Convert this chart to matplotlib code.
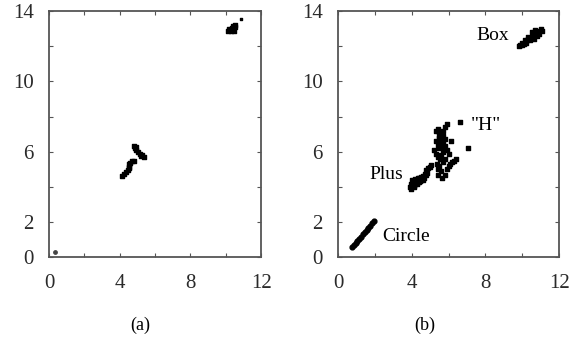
import matplotlib
matplotlib.use('Agg')
import matplotlib.pyplot as plt

plt.rcParams['font.family'] = ['Liberation Serif', 'DejaVu Serif']

### panel (a): feature space before normalisation
a_dot_x = [0.35]
a_dot_y = [0.3]
a_low_x = [4.15, 4.25, 4.35, 4.45, 4.5, 4.52, 4.55, 4.6, 4.7, 4.8]
a_low_y = [4.6, 4.72, 4.85, 4.95, 5.05, 5.15, 5.3, 5.38, 5.45, 5.5]
a_up_x = [4.8, 4.85, 4.95, 5.05, 5.15, 5.25, 5.35, 4.9, 5.2]
a_up_y = [6.3, 6.2, 6.1, 6.0, 5.9, 5.8, 5.68, 6.25, 5.75]
a_box_x = [10.15, 10.3, 10.45, 10.2, 10.35, 10.5, 10.4, 10.55, 10.25, 10.45, 10.85]
a_box_y = [12.85, 12.85, 12.9, 12.98, 13.03, 13.08, 13.18, 13.2, 12.93, 13.12, 13.55]

### panel (b): normalised features, one cluster per shape
circle_x = [0.75, 0.85, 0.95, 1.05, 1.15, 1.25, 1.35, 1.45, 1.55, 1.65, 1.75, 1.85, 1.95]
circle_y = [0.55, 0.68, 0.8, 0.92, 1.05, 1.17, 1.3, 1.42, 1.55, 1.68, 1.8, 1.93, 2.08]
plus_x = [3.9, 3.95, 4.0, 4.05, 4.1, 4.15, 4.2, 4.25, 4.3, 4.35, 4.4, 4.45, 4.5, 4.55,
          4.6, 4.65, 4.7, 4.75, 4.8, 4.85, 4.9, 5.0, 5.05, 4.0, 4.1, 4.2, 4.3, 4.4,
          4.5, 4.6, 3.95, 4.15, 4.35]
plus_y = [4.0, 4.15, 4.05, 4.3, 4.2, 4.1, 4.35, 4.25, 4.4, 4.3, 4.5, 4.35, 4.55, 4.45,
          4.6, 4.5, 4.75, 4.65, 4.95, 4.8, 5.05, 5.15, 5.25, 4.4, 4.0, 4.45, 4.15, 4.25,
          4.4, 4.4, 3.9, 4.05, 4.5]
h_x = [5.3, 5.4, 5.5, 5.6, 5.7, 5.8, 5.5, 5.6, 5.7, 5.4, 5.5, 5.6, 5.7, 5.8, 5.9,
       5.3, 5.4, 5.6, 5.8, 6.0, 6.1, 5.5, 5.7, 5.9, 6.2, 5.4, 5.6, 5.8, 6.0, 6.3,
       5.3, 5.5, 5.7, 5.9, 5.35, 5.55, 5.75, 6.15, 6.4, 6.6, 5.65, 5.45, 7.05, 5.8, 5.2]
h_y = [7.2, 7.3, 7.1, 7.0, 6.9, 7.4, 6.8, 6.6, 6.5, 6.4, 6.2, 6.3, 6.0, 6.7, 6.1,
       5.9, 5.7, 5.8, 5.6, 5.9, 5.3, 5.2, 5.4, 5.0, 5.4, 5.0, 4.9, 4.7, 5.2, 5.5,
       6.6, 6.9, 7.2, 7.6, 5.3, 5.6, 6.2, 6.6, 5.6, 7.7, 4.5, 4.7, 6.2, 6.3, 6.1]
box_x = [9.8, 9.9, 10.0, 10.1, 10.2, 10.3, 10.4, 10.5, 10.6, 10.7, 10.8, 10.9, 11.0,
         10.0, 10.2, 10.4, 10.6, 10.8, 10.9, 10.3, 10.5, 10.7, 11.05, 10.15, 10.65]
box_y = [12.0, 12.1, 12.2, 12.15, 12.3, 12.4, 12.5, 12.45, 12.6, 12.7, 12.8, 12.9, 13.0,
         12.05, 12.2, 12.35, 12.7, 12.6, 12.7, 12.55, 12.8, 12.95, 12.85, 12.35, 12.4]

labels_b = ["Box", '"H"', "Plus", "Circle"]
label_x = [8.4, 8.0, 2.6, 3.7]
label_y = [12.6, 7.5, 4.7, 1.2]

xticks = [0, 4, 8, 12]
yticks = [0, 2, 6, 10, 14]

fig = plt.figure(figsize=(5.7, 3.41), dpi=100)
ax1 = fig.add_axes([0.086, 0.246, 0.372, 0.721])
ax2 = fig.add_axes([0.593, 0.246, 0.388, 0.721])

for ax in (ax1, ax2):
    ax.set_xlim(0, 12)
    ax.set_ylim(0, 14)
    ax.set_xticks(xticks)
    ax.set_yticks(yticks)
    ax.set_xticks(range(0, 13, 2), minor=True)
    ax.set_yticks(range(0, 15, 2), minor=True)
    ax.tick_params(which='both', direction='in', top=True, right=True,
                   length=3, width=0.8, color='#555555')
    ax.tick_params(axis='x', pad=12, labelsize=15, labelcolor='#2a2a2a')
    ax.tick_params(axis='y', pad=11, labelsize=15, labelcolor='#2a2a2a')
    for s in ax.spines.values():
        s.set_color('#555555')
        s.set_linewidth(1.3)

ms = 6
ax1.scatter(a_dot_x, a_dot_y, s=6, color='#444444', marker='o')
ax1.scatter(a_low_x, a_low_y, s=ms + 2, color='black', marker='s')
ax1.scatter(a_up_x, a_up_y, s=ms + 6, color='black', marker='s')
ax1.scatter(a_box_x[:-1], a_box_y[:-1], s=ms + 6, color='black', marker='s')
ax1.scatter(a_box_x[-1:], a_box_y[-1:], s=3, color='black', marker='s')

ax2.scatter(circle_x, circle_y, s=ms + 6, color='black', marker='o')
ax2.scatter(plus_x, plus_y, s=ms, color='black', marker='s')
ax2.scatter(h_x, h_y, s=ms, color='black', marker='s')
ax2.scatter(box_x, box_y, s=ms + 4, color='black', marker='s')
for t, x, y in zip(labels_b, label_x, label_y):
    ax2.text(x, y, t, fontsize=14, ha='center', va='center')

fig.text(0.246, 0.047, "(a)", fontsize=13, ha='center', va='center')
fig.text(0.746, 0.047, "(b)", fontsize=13, ha='center', va='center')

plt.savefig('out.png', dpi=100)
